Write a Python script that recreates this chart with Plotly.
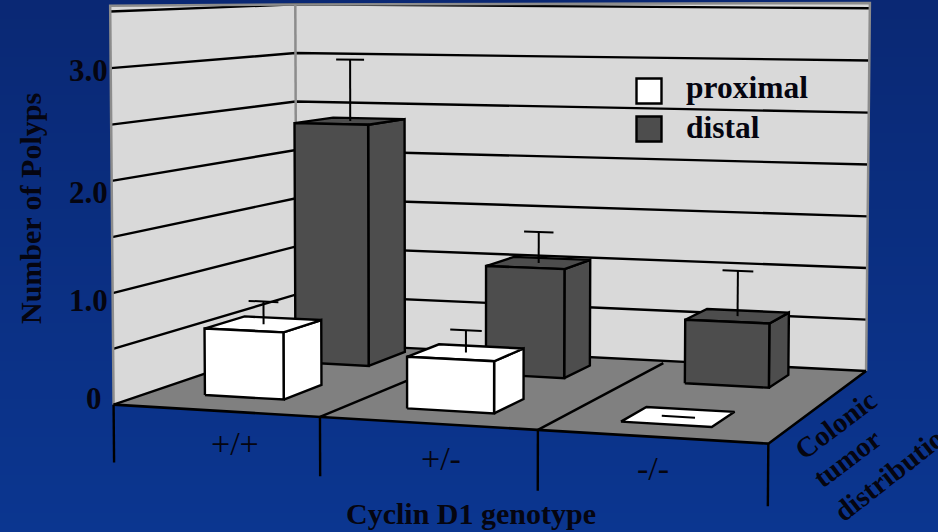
import numpy as np
import plotly.graph_objects as go

# ---- data ----
genotypes = ["+/+", "+/-", "-/-"]
value_tick_labels = ["0", "1.0", "2.0", "3.0"]
grid_values = [0.5, 1, 1.5, 2, 2.5, 3, 3.5]
proximal = [0.61, 0.46, 0.0]
proximal_err = [0.21, 0.20, 0.0]
distal = [2.36, 1.04, 0.60]
distal_err = [0.61, 0.30, 0.43]
series_names = ["proximal", "distal"]
depth_labels = ["Colonic", "tumor", "distribution"]

# bar footprints on the floor: genotype span and depth span
PROX_U = [(0.273, 0.665), (1.28, 1.689), (2.276, 2.68)]
PROX_W = [(0.362, 0.789), (0.32, 0.716), (0.30, 0.69)]
DIST_U = [(0.265, 0.655), (1.285, 1.68), (2.265, 2.67)]
DIST_W = [(1.39, 1.87), (1.335, 1.74), (1.37, 1.765)]

# Calibration of the 3-D view: (genotype, value, depth) -> screen position on the axes
CAL = [(0,0,0,115,401),(0,3.5,0,110,12),(0,0,2,296,345),(0,3.5,2,296,4),(3,0,2,866,369),
       (3,3.5,2,870,10),(3,0,0,767,446),(0,3,0,110,69),(0,2,0,111,181),(0,1,0,113,292),
       (1,0,0,317,416),(2,0,0,542,432),(3,3,2,869,59),(3,1,2,867,267),(0,3,2,296,52),(0,1,2,296,248)]
A = []
for u, v, w, x, y in CAL:
    X = [u, v, w, 1]
    A.append(X + [0, 0, 0, 0] + [-x * t for t in X])
    A.append([0, 0, 0, 0] + X + [-y * t for t in X])
P = np.linalg.svd(np.array(A, float))[2][-1].reshape(3, 4)


def pr(u, v, w):
    h = P @ np.array([u, v, w, 1.0])
    return h[0] / h[2], h[1] / h[2]


fig = go.Figure()

# background gradient
fig.add_trace(go.Heatmap(x=[0, 938], y=[0, 532], z=[[0, 0], [1, 1]], zsmooth="best", showscale=False,
                         colorscale=[[0, "#0a2874"], [1, "#0b3690"]], hoverinfo="skip"))


def face(pts, fill, lw=2.4, line="black"):
    xy = [pr(*p) for p in pts]
    xs = [a for a, _ in xy] + [xy[0][0]]
    ys = [b for _, b in xy] + [xy[0][1]]
    fig.add_trace(go.Scatter(x=xs, y=ys, mode="lines", fill="toself", fillcolor=fill,
                             line=dict(color=line, width=lw), hoverinfo="skip", showlegend=False))


def poly(pts, color="black", lw=2.4):
    xy = [pr(*p) for p in pts]
    fig.add_trace(go.Scatter(x=[a for a, _ in xy], y=[b for _, b in xy], mode="lines",
                             line=dict(color=color, width=lw), hoverinfo="skip", showlegend=False))


WALL = "#d9d9d9"
FLOOR = "#808080"
FRAME = "#8c8c8c"
DARK = "#4d4d4d"
TOP_L, TOP_C, TOP_R = 3.55, 3.5, 3.55

# walls and floor
face([(0, 0, 0), (0, TOP_L, 0), (0, TOP_C, 2), (0, 0, 2)], WALL, 0, WALL)
face([(0, 0, 2), (0, TOP_C, 2), (3, TOP_R, 2), (3, 0, 2)], WALL, 0, WALL)
face([(0, 0, 0), (3, 0, 0), (3, 0, 2), (0, 0, 2)], FLOOR, 0, FLOOR)

# gridlines
for g in grid_values:
    poly([(0, g, 0), (0, g, 2), (3, g, 2)])
# frame
poly([(0, 0, 0), (0, TOP_L, 0), (0, TOP_C, 2), (3, TOP_R, 2), (3, 0, 2)], FRAME, 2.5)
poly([(0, 0, 2), (0, TOP_C, 2)], FRAME, 2.5)
# floor edges
poly([(0, 0, 0), (0, 0, 2), (3, 0, 2)], "black", 2.4)
poly([(0, 0, 0), (3, 0, 0), (3, 0, 2)], "black", 2.6)
# floor dividers and ticks
for i in range(1, 3):
    poly([(i, 0, 0), (i, 0, 1.93)], "black", 2.4)
for i in range(4):
    poly([(i, 0, 0), (i, -0.52, 0)], "black", 2.4)


def bar(val, ur, wr, fill, err):
    u0, u1 = ur
    w0, w1 = wr
    if val > 0:
        face([(u1, 0, w0), (u1, 0, w1), (u1, val, w1), (u1, val, w0)], fill)
        face([(u0, val, w0), (u1, val, w0), (u1, val, w1), (u0, val, w1)], fill)
        face([(u0, 0, w0), (u1, 0, w0), (u1, val, w0), (u0, val, w0)], fill)
    else:
        face([(u0, 0, w0), (u1, 0, w0), (u1, 0, w1), (u0, 0, w1)], fill)
    uc, wc = (u0 + u1) / 2, (w0 + w1) / 2
    if err > 0:
        poly([(uc, val, wc), (uc, val + err, wc)], "black", 2)
    du = 0.075
    poly([(uc - du, val + err, wc), (uc + du, val + err, wc)], "black", 2)


for i in range(3):
    bar(distal[i], DIST_U[i], DIST_W[i], DARK, distal_err[i])
for i in range(3):
    bar(proximal[i], PROX_U[i], PROX_W[i], "#ffffff", proximal_err[i])

# legend swatches
fig.add_trace(go.Scatter(x=[649], y=[91], mode="markers", name=series_names[0], showlegend=False,
                         marker=dict(symbol="square", size=25, color="#ffffff", line=dict(color="black", width=2.4)),
                         hoverinfo="skip"))
fig.add_trace(go.Scatter(x=[649], y=[129], mode="markers", name=series_names[1], showlegend=False,
                         marker=dict(symbol="square", size=25, color=DARK, line=dict(color="black", width=2.4)),
                         hoverinfo="skip"))

SERIF = "Liberation Serif"


def label(x, y, text, size, bold=True, angle=0, xanchor="center"):
    t = f"<b>{text}</b>" if bold else text
    fig.add_annotation(x=x, y=y, xref="x", yref="y", text=t, showarrow=False, textangle=angle,
                       xanchor=xanchor, yanchor="middle",
                       font=dict(family=SERIF, size=size, color="#050510"))


# value tick labels
for lab, (lx, ly) in zip(value_tick_labels, [(104, 398), (110, 300), (110, 192), (110, 70)]):
    label(lx, ly, lab, 31, xanchor="right")
# genotype labels
for g, (lx, ly) in zip(genotypes, [(235, 443), (441, 458), (653, 468)]):
    label(lx, ly, g, 34, bold=False)

label(30, 209, "Number of Polyps", 30, angle=-90)
label(471, 513, "Cyclin D1 genotype", 30)
label(684, 87, series_names[0], 31.5, xanchor="left")
label(684, 127, series_names[1], 31.5, xanchor="left")
label(835, 425, depth_labels[0], 28.5, angle=-37)
label(847, 458, depth_labels[1], 28.5, angle=-37)
label(895, 470, depth_labels[2], 29, angle=-38)

fig.update_layout(
    width=938, height=532, margin=dict(l=0, r=0, t=0, b=0),
    paper_bgcolor="#0a2f82", plot_bgcolor="#0a2f82", showlegend=False,
    xaxis=dict(range=[0, 938], visible=False, fixedrange=True),
    yaxis=dict(range=[532, 0], visible=False, fixedrange=True),
)
fig.write_html("out.html", config={"displayModeBar": False},
               post_script="document.body.style.margin='0';document.documentElement.style.overflow='hidden';")
